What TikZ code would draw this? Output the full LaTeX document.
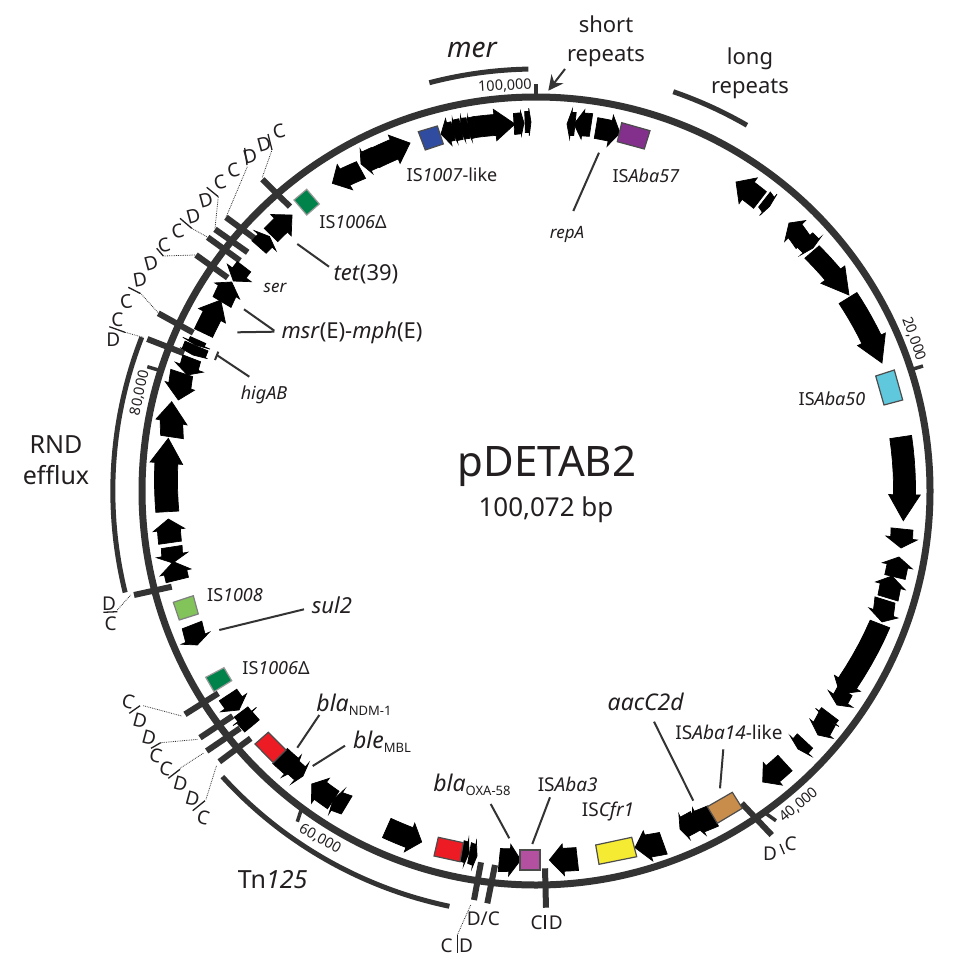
\documentclass[tikz,border=0pt]{standalone}
\usepackage{fontspec}
\setmainfont{Noto Sans}
\usetikzlibrary{arrows.meta}
\definecolor{ink}{HTML}{231F20}
\definecolor{bar}{HTML}{333333}
\newcommand\fs[1]{\fontsize{#1}{#1}\selectfont}
\newcommand\sbs[1]{\raisebox{-4pt}{\fs{13}#1}}
\tikzset{
 genefill/.style={fill=black,draw=black,line width=0.7,line join=miter},
 ring/.style={draw=bar,line width=7},
 outerarc/.style={draw=bar,line width=5},
 tickbar/.style={draw=bar,line width=6},
 smalltick/.style={draw=bar,line width=3.5},
 leader/.style={draw=bar,line width=2},
 thinleader/.style={draw=bar,line width=0.8,densely dotted},
 sepbar/.style={draw=ink,line width=1.3},
 isbox/.style={draw=black!70,line width=1.2},
 txt/.style={text=ink,inner sep=0,outer sep=0,align=center},
}
% tail x,y ; tip x,y ; body half width ; head half width ; head length
\newcommand\gene[7]{%
 \pgfmathsetmacro\gAa{atan2(#2-491,#1-536)}%
 \pgfmathsetmacro\gAb{atan2(#4-491,#3-536)}%
 \pgfmathsetmacro\gD{\gAb-\gAa}%
 \pgfmathsetmacro\gD{\gD>180?\gD-360:(\gD<-180?\gD+360:\gD)}%
 \pgfmathsetmacro\gRa{veclen(#1-536,#2-491)}%
 \pgfmathsetmacro\gRb{veclen(#3-536,#4-491)}%
 \pgfmathsetmacro\gT{max(0,1-#7/(\gRb*abs(\gD)*pi/180))}%
 \pgfmathsetmacro\gB{#5+0.5}%
 \pgfmathsetmacro\gH{#6+0.8}%
 \draw[genefill,shift={(536,491)}]
  ({\gAa}:{\gRa+\gB})
  \foreach \t in {0.2,0.4,0.6,0.8,1} { -- ({\gAa+\t*\gT*\gD}:{\gRa+\t*\gT*(\gRb-\gRa)+\gB}) }
  -- ({\gAa+\gT*\gD}:{\gRa+\gT*(\gRb-\gRa)+\gH})
  -- ({\gAb}:{\gRb})
  -- ({\gAa+\gT*\gD}:{\gRa+\gT*(\gRb-\gRa)-\gH})
  \foreach \t in {1,0.8,0.6,0.4,0.2,0} { -- ({\gAa+\t*\gT*\gD}:{\gRa+\t*\gT*(\gRb-\gRa)-\gB}) }
  -- cycle;%
}
\newcommand\oarc[4]{%
 \pgfmathsetmacro\gAa{atan2(#2-491,#1-536)}%
 \pgfmathsetmacro\gAb{atan2(#4-491,#3-536)}%
 \pgfmathsetmacro\gD{\gAb-\gAa}%
 \pgfmathsetmacro\gD{\gD>180?\gD-360:(\gD<-180?\gD+360:\gD)}%
 \pgfmathsetmacro\gRa{veclen(#1-536,#2-491)}%
 \draw[outerarc,shift={(536,491)}] ({\gAa}:{\gRa})
  \foreach \t in {1,...,40} { -- ({\gAa+\t/40*\gD}:{\gRa}) };%
}
\begin{document}
\begin{tikzpicture}[x=1pt,y=-1pt]
\useasboundingbox (0,0) rectangle (974,974);
\fill[white] (0,0) rectangle (974,974);
% outer arcs
\oarc{429.3}{82.7}{528.3}{69}
\oarc{673.3}{91.7}{746.7}{125.7}
\oarc{141.7}{337.3}{124.3}{592.7}
\oarc{222.3}{776.7}{449.3}{906.7}
% ring
\draw[ring] (536,491) circle[radius=394pt];
% small ticks
\draw[smalltick] (536,84) -- (536,97);
\draw[smalltick] (910,370) -- (923,366);
\draw[smalltick] (147.3,366.7) -- (158.3,370);
\draw[smalltick] (301.7,808.3) -- (297.3,821.7);
\draw[smalltick] (763.3,811.7) -- (776,820.7);
% tick bars
\foreach \xa/\ya/\xb/\yb in {262.3/179.3/290/206.7,226/217.3/257.7/240.7,215/229.3/247.7/252.3,207.7/237.3/240/260.7,196/255/227.7/277.7,158.3/313.3/193.3/332.7,147.3/339/184/353.3,134/595/171.7/586.7,185/714.3/218.3/693.3,200/737.7/232.7/716,206.7/751/240/728.3,219.3/761.7/250.7/738.3,481/862.3/474/900,495/865/487.3/903.3,545/868.3/546/907.7,741.7/803.3/771.7/835}
 \draw[tickbar] (\xa,\ya) -- (\xb,\yb);
% genes: top
\gene{453}{131}{441}{134}{9}{13}{8}
\gene{461}{129}{452}{131}{10}{12}{3}
\gene{468}{128}{460}{129}{10}{12}{3}
\gene{475}{127}{467}{129}{10}{12}{3}
\gene{475}{127}{515}{124}{10}{15}{20}
\gene{514}{124}{524}{123}{10}{11}{3}
\gene{525}{122}{531}{122}{10}{13}{2}
\gene{575}{124}{567}{124}{11}{14}{4}
\gene{591}{125}{574}{124}{11}{14}{9}
\gene{596}{128}{620}{133}{10}{15}{10}
% genes: right
\gene{760}{200}{736}{182}{10}{15}{15}
\gene{764.5}{199.5}{769.5}{206.5}{9}{13}{2}
\gene{803}{242}{789}{223}{9}{14}{10}
\gene{805}{240}{813}{248}{10}{13}{3}
\gene{812}{252}{849}{295}{9}{14}{26}
\gene{848}{298}{882}{363}{10}{14.5}{26}
\gene{900.7}{437}{903.3}{520.7}{10.5}{15}{26}
\gene{902}{529}{901}{548}{10.5}{15}{10}
\gene{895}{577}{899}{557}{10}{14.5}{9}
\gene{888}{598}{892}{576}{10}{14.5}{10}
\gene{885}{600}{882}{622}{10}{14.5}{9}
\gene{880}{624}{840}{694}{10}{14.5}{13}
\gene{845}{691}{837}{705}{8}{14}{7}
\gene{830}{714}{826}{719}{10}{14}{2}
\gene{827}{719}{818}{735}{10}{14}{7}
\gene{805}{741}{798}{749}{10}{14}{4}
\gene{785}{763}{762.7}{782}{10}{14}{13}
% genes: bottom
\gene{713}{816}{692.7}{824}{11}{14.5}{7}
\gene{695}{821}{680}{829}{10}{13}{5}
\gene{663.3}{843.3}{635}{847.7}{11}{15}{13}
\gene{577.3}{859}{549.3}{860}{11}{15}{14}
\gene{499.3}{860}{520.7}{860}{11}{15}{11}
\gene{462}{851}{469}{853}{10}{13}{3}
\gene{469.5}{853}{477}{856}{10}{13}{3}
\gene{386.7}{828}{421.7}{842}{10}{14.5}{13}
\gene{333.3}{800}{311.7}{784}{10}{14.5}{11}
\gene{346.7}{805}{333}{800}{10}{14}{4}
\gene{280}{756}{296}{770}{10}{14}{6}
\gene{294}{768}{303}{776}{8}{13}{4}
\gene{228}{695}{239}{710}{10}{15}{9}
\gene{241}{712}{246}{718}{8}{14}{2}
\gene{245}{718}{252}{726}{9}{9}{0.1}
\gene{192}{625}{197.3}{645}{10}{14.5}{7}
% genes: left
\gene{177.3}{580}{173.3}{561.7}{11}{15}{11}
\gene{171.7}{547}{172.7}{563}{10}{15}{8}
\gene{170}{542.7}{168.3}{519}{11}{15}{11}
\gene{167.3}{511.7}{168.3}{438.3}{11}{15.5}{25}
\gene{172}{437}{171.7}{401.7}{11}{15}{20}
\gene{181.7}{373}{178.3}{400}{11}{14.5}{14}
\gene{191.7}{358.3}{187.3}{375}{9}{14}{8}
\gene{198}{340}{195.5}{345}{8}{14}{2}
\gene{196.5}{346}{193}{355}{12}{14}{2}
\gene{203.5}{333}{220.7}{300}{9.5}{14.5}{18}
\gene{222}{302}{231.7}{282}{10}{14}{10}
\gene{244}{266.7}{233.3}{281}{8}{14}{10}
\gene{271}{235}{292}{215}{9}{14}{15}
\gene{259}{247}{269.5}{236.5}{9}{14}{6}
\gene{361}{170}{332.3}{183.3}{9}{14}{14}
\gene{376}{157}{361}{164}{10}{13}{6}
\gene{375}{158}{410}{143}{10}{14.5}{17}
% IS boxes
\draw[isbox,fill={rgb,255:red,48;green,76;blue,160}] (418.3,131.7) -- (437.3,126) -- (443.3,144) -- (425.3,150) -- cycle;
\draw[isbox,fill={rgb,255:red,130;green,48;blue,140}] (621.7,122.7) -- (650,130.7) -- (644.3,149) -- (617.3,141.7) -- cycle;
\draw[isbox,fill={rgb,255:red,95;green,200;blue,220}] (875.7,376) -- (894.3,370) -- (902.7,400) -- (884,405) -- cycle;
\draw[isbox,fill={rgb,255:red,200;green,140;blue,75}] (707.3,806.7) -- (732.3,792.3) -- (742.3,808.3) -- (717.3,823.3) -- cycle;
\draw[isbox,fill={rgb,255:red,245;green,235;blue,50}] (595.7,845) -- (631.7,837.3) -- (636.7,856.7) -- (599,864.3) -- cycle;
\draw[isbox,fill={rgb,255:red,180;green,80;blue,160}] (520,850) -- (540,850) -- (540,870) -- (520,870) -- cycle;
\draw[isbox,fill={rgb,255:red,237;green,28;blue,36}] (438.3,837.3) -- (463.3,842.7) -- (460,861.7) -- (434,856) -- cycle;
\draw[isbox,fill={rgb,255:red,237;green,28;blue,36}] (268.3,732.3) -- (286,750) -- (273.3,762.7) -- (255,744) -- cycle;
\draw[isbox,draw=black!50,fill={rgb,255:red,130;green,195;blue,90}] (173.3,602.3) -- (193.3,595.7) -- (198.3,614) -- (179.3,620) -- cycle;
\draw[isbox,draw=black!40,fill={rgb,255:red,0;green,130;blue,75}] (205.7,677.3) -- (224,667.7) -- (231.7,680.7) -- (214,691.7) -- cycle;
\draw[isbox,draw=black!40,fill={rgb,255:red,0;green,130;blue,75}] (294,200) -- (306.7,189.3) -- (319.3,204) -- (306.7,215) -- cycle;
% leaders
\foreach \xa/\ya/\xb/\yb in {297.3/244/329/266.7,244/309.3/274.3/330.7,237.3/332.3/274.3/331.7,216.7/355/249.3/376.7,218.3/351.7/215/360,599/152.7/573.3/211,219.3/630/304/609.3,297.3/747.7/319.3/715,312.7/766/345/745.7,654/721.7/693.3/800.7,723.3/749.3/720/788.3,550/797.3/532.3/844,490.7/804/509.3/838.3}
 \draw[leader] (\xa,\ya) -- (\xb,\yb);
\draw[leader,-{Stealth[length=15pt,width=15pt,inset=5pt]}] (565,69) -- (548.3,90.7);
% dotted leaders
\foreach \xa/\ya/\xb/\yb in {262.3/177.3/271.7/150.7,226/217.3/247.3/166.7,215/228.3/218.3/196.7,206.7/236.7/191.7/228.3,195/255/163.3/256,157.7/312.3/140/292.7,143.3/337.3/125/332.3,117.3/610/130.7/595,143.3/705.7/181.7/716,160.7/742.7/198.3/739.3,180/768.3/204/752.7,206/799.3/216.7/765,470.7/905/457.3/935}
 \draw[thinleader] (\xa,\ya) -- (\xb,\yb);
% separators between strand letters
\foreach \xa/\ya/\xb/\yb in {268/134/272/150,244.7/148/247/165,206.7/187.3/218.3/196.7,180/218.3/191.7/228.3,156.7/248.3/163.3/256,128.3/287.3/140/293.3,109.3/326.7/125/332.3,103.3/612.3/117.3/611.7,129.3/713.3/140/705.7,151/748.3/160.7/742.7,168.3/778.3/180/769.3,192.7/810.7/205/800.7,780/844/784.3/854,457.3/935/457.3/953,545/915/545/929}
 \draw[sepbar] (\xa,\ya) -- (\xb,\yb);
% strand letters
\begin{scope}[every node/.style={txt,font=\fs{19}}]
\node[rotate=15] (s1) at (264,144.3) {D};
\node[rotate=15] (s2) at (279,131.7) {C};
\node[rotate=15] (s3) at (233.3,170.7) {C};
\node[rotate=15] (s4) at (250,156) {D};
\node[rotate=15] (s5) at (220,182.7) {C};
\node[rotate=15] (s6) at (205.7,200) {D};
\node[rotate=15] (s7) at (193.3,215.7) {D};
\node[rotate=15] (s8) at (177.7,231.7) {C};
\node[rotate=15] (s9) at (164,245.7) {C};
\node[rotate=15] (s10) at (151,263.3) {D};
\node[rotate=10] (s11) at (140,279.3) {D};
\node[rotate=10] (s12) at (126,301.7) {C};
\node (s13) at (117.3,320) {C};
\node (s14) at (113.3,340) {D};
\node (s15) at (109,603.3) {D};
\node (s16) at (110.7,624) {C};
\node[rotate=-15] (s17) at (128.3,701.7) {C};
\node[rotate=-15] (s18) at (140,721) {D};
\node[rotate=-15] (s19) at (149,737.7) {D};
\node[rotate=-15] (s20) at (155.7,755.7) {C};
\node[rotate=-15] (s21) at (165.7,768.3) {C};
\node[rotate=-15] (s22) at (180.7,783.3) {D};
\node[rotate=-15] (s23) at (192.7,798.3) {D};
\node[rotate=-15] (s24) at (203.3,817.3) {C};
\node (s25) at (483.3,918.3) {D/C};
\node (s26a) at (446.7,946) {C};
\node (s26b) at (466,946) {D};
\node (s27a) at (536.7,922.3) {C};
\node (s27b) at (555.7,922.3) {D};
\node (s28) at (770,853.3) {D};
\node (s29) at (790.7,843.3) {C};
\end{scope}
% coordinate labels
\begin{scope}[every node/.style={txt,font=\fs{14.5}}]
\node[rotate=3] (k100) at (505,86) {100,000};
\node[rotate=-70] (k20) at (914,339) {20,000};
\node[rotate=40] (k40) at (799,805) {40,000};
\node[rotate=-30] (k60) at (320,839) {60,000};
\node[rotate=78] (k80) at (140,393) {80,000};
\end{scope}
% text labels
\tikzset{every node/.style={txt}}
\node[font=\fs{42}] (title) at (547,466) {pDETAB2};
\node[font=\fs{26}] (size) at (546,510) {100,072 bp};
\node[font=\fs{25}] (rnd) at (56,460) {RND\\[6pt]efflux};
\node[font=\fs{28}\itshape] (mer) at (472,50) {mer};
\node[font=\fs{22}] (short) at (606,41) {short\\[7pt]repeats};
\node[font=\fs{22}] (long) at (750,73) {long\\[7pt]repeats};
\node[font=\fs{18}] (is1007) at (452,175) {IS\textit{1007}-like};
\node[font=\fs{18}] (is57) at (646,176) {IS\textit{Aba57}};
\node[font=\fs{17}\itshape] (repa) at (567,234) {repA};
\node[font=\fs{18}] (is1006a) at (353,222) {IS\textit{1006}Δ};
\node[font=\fs{22}] (tet) at (366,274) {\textit{tet}(39)};
\node[font=\fs{17}\itshape] (ser) at (275,288) {ser};
\node[font=\fs{22}] (msr) at (352,333) {\textit{msr}(E)-\textit{mph}(E)};
\node[font=\fs{18}\itshape] (hig) at (264,395) {higAB};
\node[font=\fs{18}] (is1008) at (235,595) {IS\textit{1008}};
\node[font=\fs{22}\itshape] (sul) at (332,605) {sul2};
\node[font=\fs{18}] (is1006b) at (276,668) {IS\textit{1006}Δ};
\node[font=\fs{23}] (ndm) at (354,705) {\textit{bla}\sbs{NDM-1}};
\node[font=\fs{23}] (mbl) at (382,742) {\textit{ble}\sbs{MBL}};
\node[font=\fs{25}] (tn) at (272.7,880) {Tn\textit{125}};
\node[font=\fs{23}] (oxa) at (472,785) {\textit{bla}\sbs{OXA-58}};
\node[font=\fs{19}] (is3) at (567.7,784) {IS\textit{Aba3}};
\node[font=\fs{19}] (cfr) at (608,812) {IS\textit{Cfr1}};
\node[font=\fs{23}\itshape] (aac) at (645.7,701.7) {aacC2d};
\node[font=\fs{19}] (is14) at (729,732) {IS\textit{Aba14}-like};
\node[font=\fs{18}] (is50) at (832,399) {IS\textit{Aba50}};
\end{tikzpicture}
\end{document}
